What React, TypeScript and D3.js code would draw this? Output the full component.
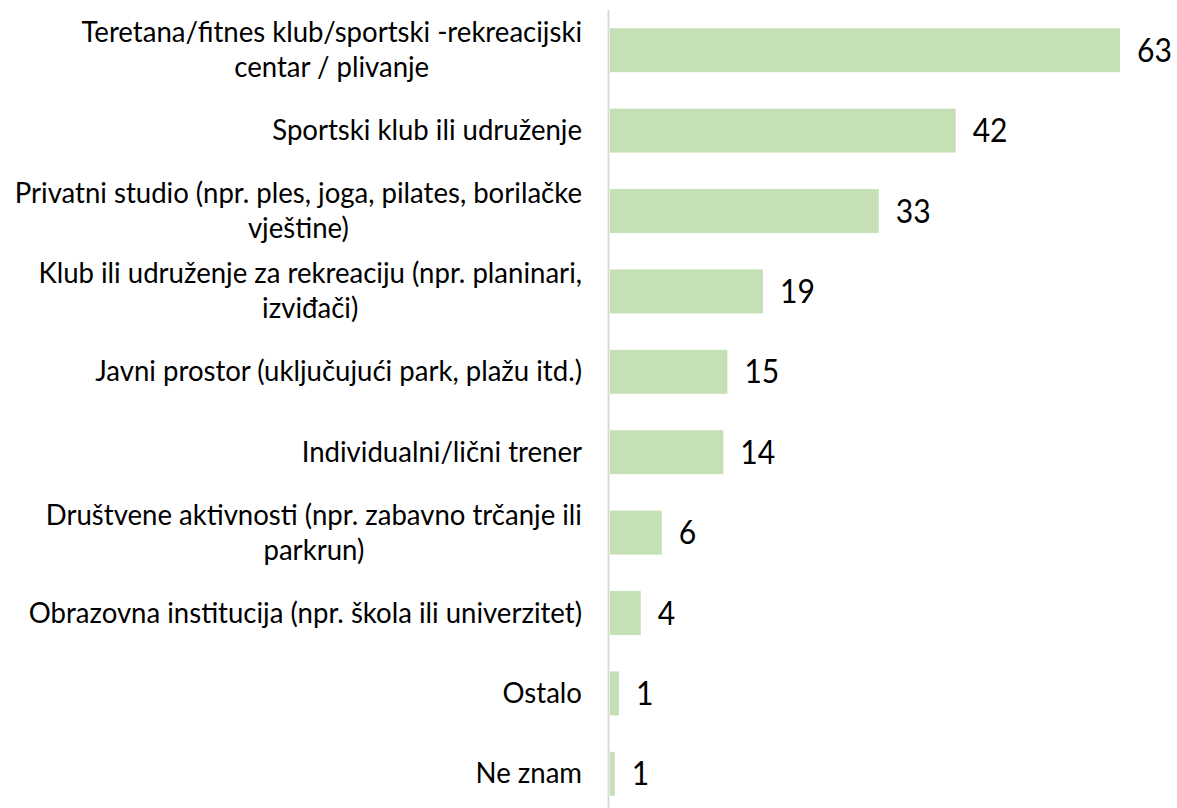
import React from "react";
import * as d3 from "d3";

const categories: string[][] = [
  ["Teretana/fitnes klub/sportski -rekreacijski", "centar / plivanje"],
  ["Sportski klub ili udruženje"],
  ["Privatni studio (npr. ples, joga, pilates, borilačke", "vještine)"],
  ["Klub ili udruženje za rekreaciju (npr. planinari,", "izviđači)"],
  ["Javni prostor (uključujući park, plažu itd.)"],
  ["Individualni/lični trener"],
  ["Društvene aktivnosti (npr. zabavno trčanje ili", "parkrun)"],
  ["Obrazovna institucija (npr. škola ili univerzitet)"],
  ["Ostalo"],
  ["Ne znam"],
];
// bar lengths
const values: number[] = [63, 42.7, 33.2, 18.9, 14.5, 14.0, 6.4, 3.8, 1.1, 0.6];
// printed data labels
const valueLabels: string[] = ["63", "42", "33", "19", "15", "14", "6", "4", "1", "1"];

const W = 1177;
const H = 808;
const FONT = "Lato, 'Open Sans', sans-serif";
const LABEL_RIGHT = 582;
const LABEL_SIZE = 29;
const LABEL_SX = 0.95;
const VALUE_SIZE = 32;
const VALUE_SX = 0.94;

export default function App() {
  const ref = React.useRef<SVGSVGElement>(null);
  const idx = d3.range(values.length);
  const y = d3.scaleBand<number>().domain(idx).range([10, 814]).paddingInner(0.453).paddingOuter(0.2265);
  const x = d3.scaleLinear().domain([0, 63]).range([610, 1120]);

  React.useLayoutEffect(() => {
    const svg = ref.current;
    if (!svg) return;
    // squeeze glyphs horizontally to mimic the narrow original face
    svg.querySelectorAll("text[data-sx]").forEach((node) => {
      const t = node as SVGTextElement;
      t.removeAttribute("textLength");
      const sx = parseFloat(t.getAttribute("data-sx") || "1");
      const w = t.getComputedTextLength() * sx;
      t.setAttribute("data-w", String(w));
      t.setAttribute("textLength", String(w));
      t.setAttribute("lengthAdjust", "spacingAndGlyphs");
    });
    svg.querySelectorAll("g.label").forEach((g) => {
      const texts = Array.from(g.querySelectorAll("text")) as SVGTextElement[];
      const maxW = Math.max(...texts.map((t) => parseFloat(t.getAttribute("data-w") || "0")));
      const cx = LABEL_RIGHT - maxW / 2;
      texts.forEach((t) => t.setAttribute("x", String(cx)));
    });
  }, []);

  return (
    <svg ref={ref} width={W} height={H} style={{ position: "absolute", left: 0, top: 0, background: "#fff" }}>
      {idx.map((i) => {
        const yc = (y(i) as number) + y.bandwidth() / 2;
        const lines = categories[i];
        const n = lines.length;
        const lh = 35;
        return (
          <g key={i}>
            <rect x={x(0)} y={y(i)} width={x(values[i]) - x(0)} height={y.bandwidth()} fill="#c5e0b4" />
            <text
              x={x(values[i]) + 17}
              y={yc}
              dy="0.36em"
              fontFamily={FONT}
              fontSize={VALUE_SIZE}
              fill="#000"
              data-sx={VALUE_SX}
            >
              {valueLabels[i]}
            </text>
            <g className="label">
              {lines.map((l, k) => (
                <text
                  key={k}
                  x={LABEL_RIGHT}
                  y={yc + (k - (n - 1) / 2) * lh}
                  dy="0.33em"
                  textAnchor="middle"
                  fontFamily={FONT}
                  fontSize={LABEL_SIZE}
                  fill="#000"
                  data-sx={LABEL_SX}
                >
                  {l}
                </text>
              ))}
            </g>
          </g>
        );
      })}
      <line x1={608.5} x2={608.5} y1={10} y2={H} stroke="#d9d9d9" strokeWidth={2} />
    </svg>
  );
}
